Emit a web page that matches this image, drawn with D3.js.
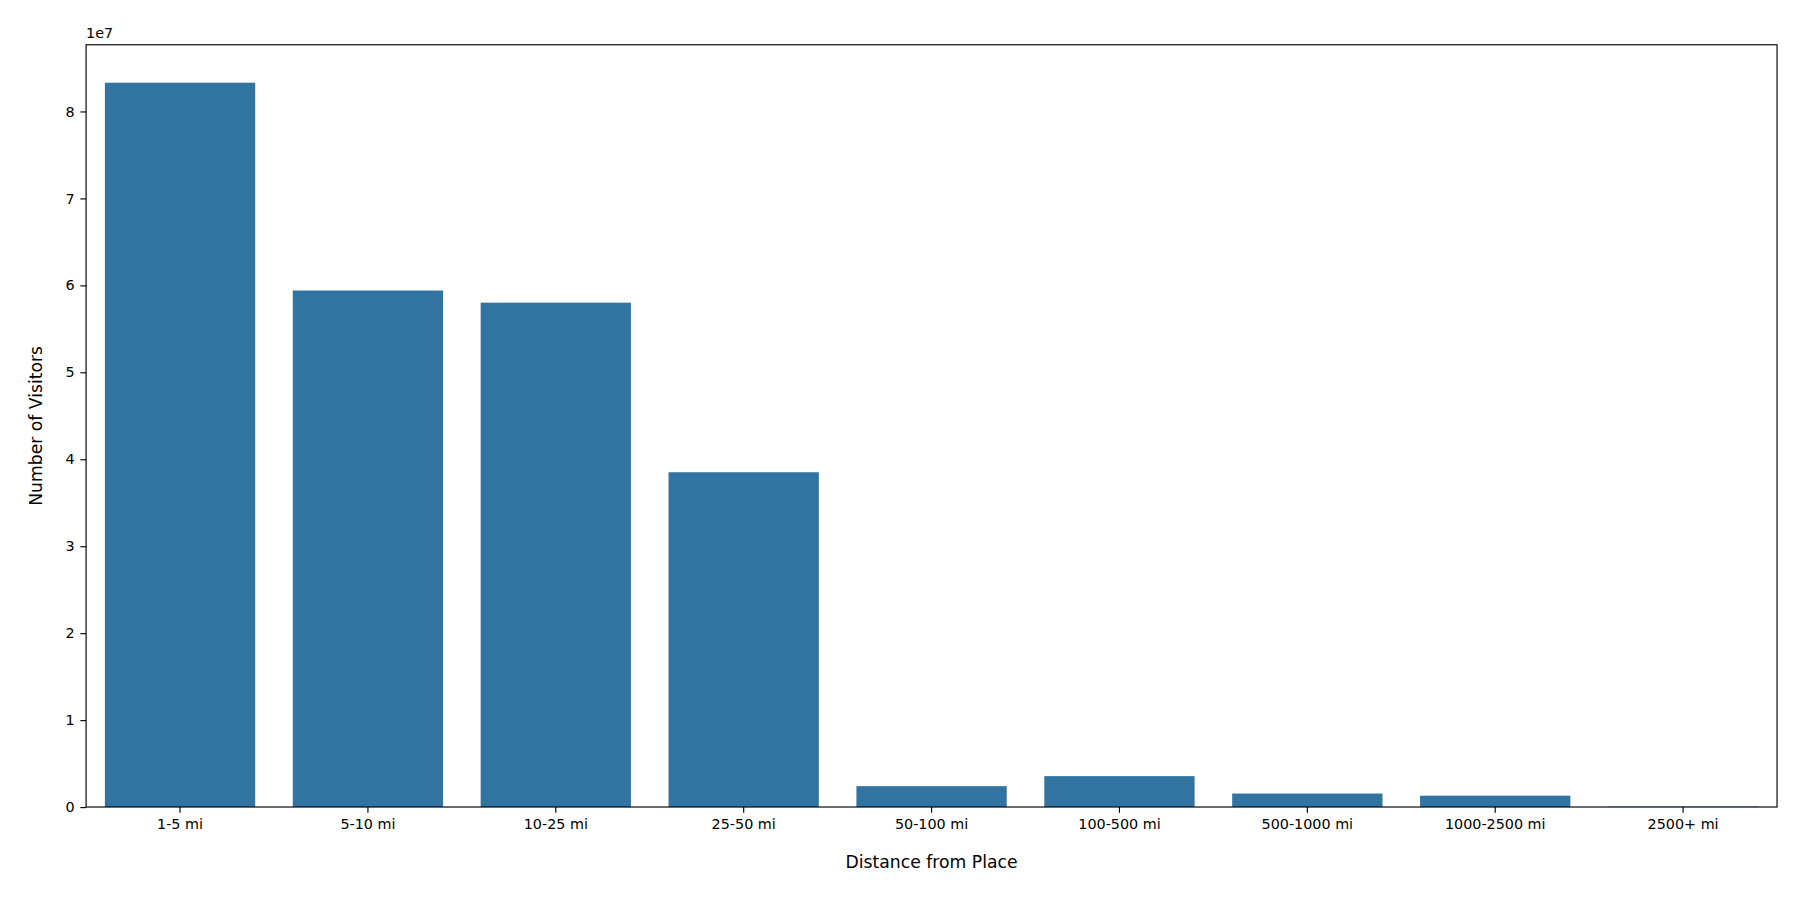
<!DOCTYPE html>
<html>
<head>
<meta charset="utf-8">
<script src="https://cdn.jsdelivr.net/npm/d3@7"></script>
<style>
  body { margin: 0; background: #fff; }
  text { font-family: "DejaVu Sans", sans-serif; }
</style>
</head>
<body>
<div id="chart"></div>
<script>
const categories = ["1-5 mi", "5-10 mi", "10-25 mi", "25-50 mi", "50-100 mi", "100-500 mi", "500-1000 mi", "1000-2500 mi", "2500+ mi"];
const visitors = [83300000, 59400000, 58000000, 38500000, 2400000, 3550000, 1550000, 1300000, 50000];
const yTicks = [0, 1, 2, 3, 4, 5, 6, 7, 8];

const W = 1568, H = 784;
const margin = { top: 39, right: 20, bottom: 81, left: 75 };

const svg = d3.select("#chart").append("svg")
  .attr("width", 1800).attr("height", 900)
  .attr("viewBox", `0 0 ${W} ${H}`);

const x = d3.scaleBand().domain(categories)
  .range([margin.left, W - margin.right]).paddingInner(0.2).paddingOuter(0.1);
const y = d3.scaleLinear().domain([0, 8.766e7]).range([H - margin.bottom, margin.top]);

svg.append("g").selectAll("rect").data(categories).join("rect")
  .attr("x", d => x(d))
  .attr("width", x.bandwidth())
  .attr("y", (d, i) => y(visitors[i]))
  .attr("height", (d, i) => y(0) - y(visitors[i]))
  .attr("fill", "#3274a1");

const xAxis = svg.append("g")
  .attr("transform", `translate(0,${H - margin.bottom})`)
  .call(d3.axisBottom(x).tickSize(5).tickPadding(5));
const yAxis = svg.append("g")
  .attr("transform", `translate(${margin.left},0)`)
  .call(d3.axisLeft(y).tickValues(yTicks.map(v => v * 1e7)).tickFormat(d => d / 1e7).tickSize(5).tickPadding(5));
[xAxis, yAxis].forEach(a => {
  a.select(".domain").remove();
  a.selectAll("text").attr("font-size", 12.5).attr("fill", "#000").attr("font-family", "DejaVu Sans");
  a.selectAll("line").attr("stroke", "#000");
});

svg.append("rect")
  .attr("x", margin.left).attr("y", margin.top)
  .attr("width", W - margin.left - margin.right)
  .attr("height", H - margin.top - margin.bottom)
  .attr("fill", "none").attr("stroke", "#000").attr("stroke-width", 1);

svg.append("text").attr("x", margin.left).attr("y", margin.top - 6)
  .attr("font-size", 12.5).text("1e7");

svg.append("text")
  .attr("x", (margin.left + W - margin.right) / 2).attr("y", H - 28)
  .attr("text-anchor", "middle").attr("font-size", 15)
  .text("Distance from Place");

svg.append("text")
  .attr("transform", `translate(37,${(margin.top + H - margin.bottom) / 2}) rotate(-90)`)
  .attr("text-anchor", "middle").attr("font-size", 15)
  .text("Number of Visitors");
</script>
</body>
</html>
